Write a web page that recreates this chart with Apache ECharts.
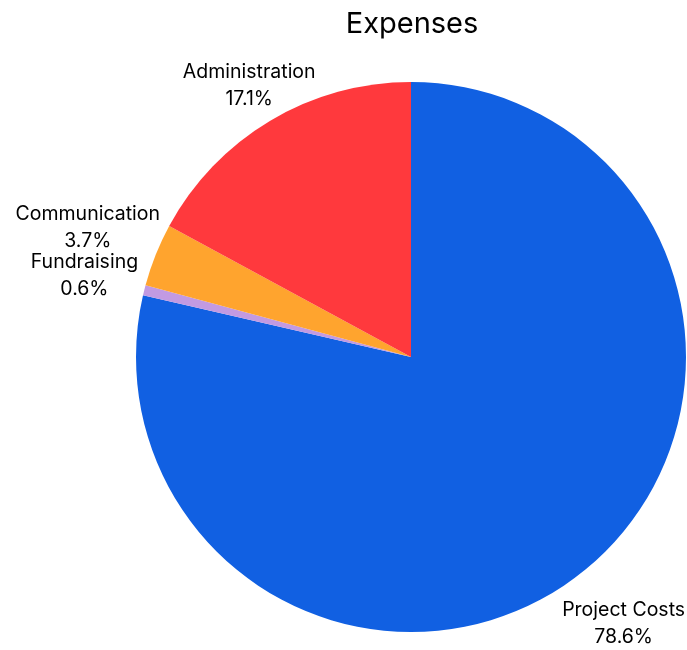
<!DOCTYPE html>
<html>
<head>
<meta charset="utf-8">
<script src="https://cdn.jsdelivr.net/npm/echarts@6/dist/echarts.min.js"></script>
<style>html,body{margin:0;padding:0;background:#fff}#c{width:687px;height:650px}</style>
</head>
<body>
<div id="c"></div>
<script>
const categories = ['Project Costs', 'Fundraising', 'Communication', 'Administration'];
const values = [78.6, 0.6, 3.7, 17.1];
const colors = ['#1160E2', '#C29AE2', '#FFA42E', '#FF393D'];

const CX = 411, CY = 357, R = 275;
const FONT = 'Inter';
const total = values.reduce((a, b) => a + b, 0);
const midAngles = [];
let cum = 0;
values.forEach(v => {
  midAngles.push((90 - 360 * (cum + v / 2) / total) * Math.PI / 180);
  cum += v;
});
const radialTweak = [7, 3, -4, -16];

const chart = echarts.init(document.getElementById('c'), null, {renderer: 'canvas'});
chart.setOption({
  animation: false,
  backgroundColor: '#ffffff',
  title: {
    text: 'Expenses',
    left: 407, top: 5, textAlign: 'center',
    textStyle: {fontFamily: FONT, fontSize: 29, fontWeight: 'normal', color: '#000'}
  },
  series: [{
    type: 'pie',
    center: [CX, CY],
    radius: R,
    startAngle: 90,
    clockwise: true,
    percentPrecision: 1,
    avoidLabelOverlap: false,
    data: categories.map((n, i) => ({name: n, value: values[i], itemStyle: {color: colors[i]}})),
    label: {
      show: true,
      position: 'outside',
      formatter: '{b}\n{d}%',
      fontFamily: FONT,
      fontSize: 19.5,
      lineHeight: 27,
      color: '#000'
    },
    labelLine: {show: false, length: 5, length2: 0},
    labelLayout: function (p) {
      const i = p.dataIndex;
      const a = midAngles[i];
      const c = Math.cos(a), s = Math.sin(a);
      const hw = p.labelRect.width / 2, hh = p.labelRect.height / 2;
      const d = R + hw * Math.abs(c) + hh * Math.abs(s) + radialTweak[i];
      return {x: CX + d * c, y: CY - d * s, align: 'center', verticalAlign: 'middle'};
    }
  }]
});
</script>
</body>
</html>
